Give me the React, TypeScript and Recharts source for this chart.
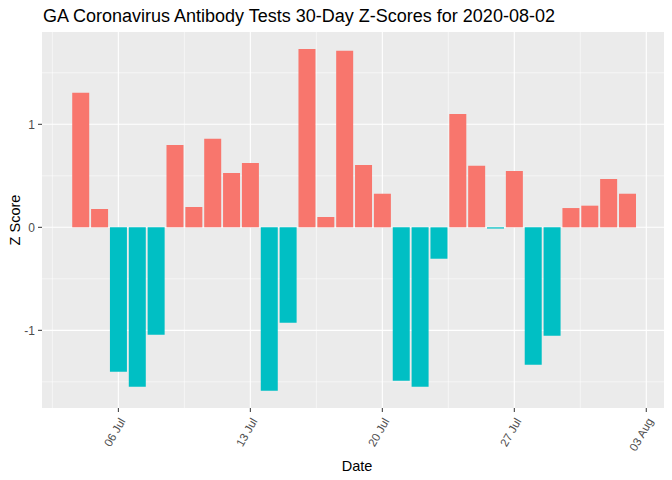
import { BarChart, Bar, XAxis, YAxis, CartesianGrid, Cell, Customized } from 'recharts';

const dates = [
  '2020-07-04', '2020-07-05', '2020-07-06', '2020-07-07', '2020-07-08', '2020-07-09',
  '2020-07-10', '2020-07-11', '2020-07-12', '2020-07-13', '2020-07-14', '2020-07-15',
  '2020-07-16', '2020-07-17', '2020-07-18', '2020-07-19', '2020-07-20', '2020-07-21',
  '2020-07-22', '2020-07-23', '2020-07-24', '2020-07-25', '2020-07-26', '2020-07-27',
  '2020-07-28', '2020-07-29', '2020-07-30', '2020-07-31', '2020-08-01', '2020-08-02',
];

const zScores = [
  1.307, 0.178, -1.402, -1.548, -1.043, 0.799,
  0.197, 0.86, 0.527, 0.624, -1.586, -0.926,
  1.731, 0.1, 1.715, 0.605, 0.326, -1.489,
  -1.548, -0.305, 1.1, 0.598, -0.012, 0.547,
  -1.334, -1.052, 0.187, 0.21, 0.469, 0.326,
];

const tickDates = ['2020-07-06', '2020-07-13', '2020-07-20', '2020-07-27', '2020-08-03'];
const tickLabels = ['06 Jul', '13 Jul', '20 Jul', '27 Jul', '03 Aug'];

const yTicks = [-1, 0, 1];
const yMinor = [-1.5, -0.5, 0.5, 1.5];

const COLORS = { pos: '#F8766D', neg: '#00BFC4' };
const FONT = '"Liberation Sans", Arial, sans-serif';

// day number counted from 2020-06-30 (so Jul 4 -> 4)
const toDay = (d: string) => (Date.parse(d) - Date.parse('2020-06-30')) / 86400000;

const data = dates.map((d, i) => ({ x: toDay(d), z: zScores[i] }));
const xTicks = tickDates.map(toDay);
const xMinor = [xTicks[0] - 3.5, ...xTicks.slice(0, -1).map((t, i) => (t + xTicks[i + 1]) / 2)];

const XTick = ({ x, y, payload }: any) => {
  const idx = xTicks.indexOf(payload.value);
  const px = x + 7.5;
  const py = y + 9;
  return (
    <text
      x={px}
      y={py}
      textAnchor="end"
      transform={`rotate(-60 ${px} ${py})`}
      fontSize={11.5}
      fontFamily={FONT}
      fill="#4D4D4D"
    >
      {tickLabels[idx]}
    </text>
  );
};

const Title = () => (
  <text x={43} y={22} fontSize={18} fontFamily={FONT} fill="#000">
    GA Coronavirus Antibody Tests 30-Day Z-Scores for 2020-08-02
  </text>
);

export default function App() {
  return (
    <div style={{ position: 'absolute', left: 0, top: 0 }}>
      <BarChart width={672} height={480} data={data} margin={{ top: 32, right: 8, bottom: 0, left: 0 }}>
        <CartesianGrid
          fill="#EBEBEB"
          stroke="#FFFFFF"
          strokeWidth={0.55}
          horizontalValues={yMinor}
          verticalValues={xMinor}
        />
        <CartesianGrid
          stroke="#FFFFFF"
          strokeWidth={1.1}
          horizontalValues={yTicks}
          verticalValues={xTicks}
        />
        <XAxis
          dataKey="x"
          type="number"
          domain={[1.95, 34.94]}
          ticks={xTicks}
          interval={0}
          height={72}
          axisLine={false}
          tickSize={4}
          tickMargin={0}
          tickLine={{ stroke: '#333333' }}
          tick={<XTick />}
          label={{
            content: () => (
              <text x={357} y={471} textAnchor="middle" fontSize={14.5} fontFamily={FONT} fill="#000">
                Date
              </text>
            ),
          }}
        />
        <YAxis
          type="number"
          domain={[-1.754, 1.896]}
          ticks={yTicks}
          width={42}
          axisLine={false}
          tickSize={4}
          tickMargin={3}
          tickLine={{ stroke: '#333333' }}
          tick={{ fontSize: 12, fontFamily: FONT, fill: '#4D4D4D' }}
          label={{
            content: () => (
              <text
                x={20}
                y={220}
                textAnchor="middle"
                transform="rotate(-90 20 220)"
                fontSize={14.5}
                fontFamily={FONT}
                fill="#000"
              >
                Z Score
              </text>
            ),
          }}
        />
        <Bar dataKey="z" barSize={17} isAnimationActive={false}>
          {data.map((entry, index) => (
            <Cell key={`cell-${index}`} fill={entry.z >= 0 ? COLORS.pos : COLORS.neg} />
          ))}
        </Bar>
        <Customized component={Title} />
      </BarChart>
    </div>
  );
}
